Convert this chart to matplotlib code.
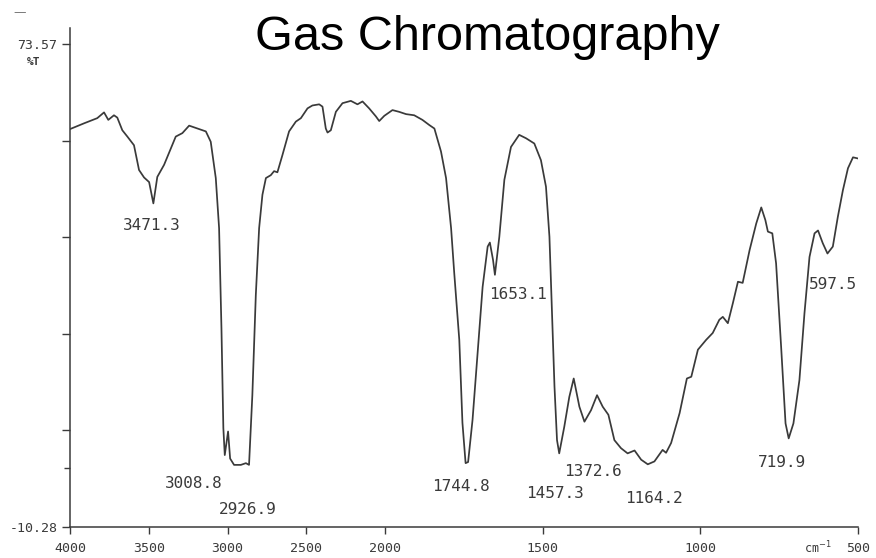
import numpy as np
import matplotlib
matplotlib.use('Agg')
import matplotlib.pyplot as plt

# IR spectrum: wavenumber (cm-1) and %T
wavenumber = [4000, 3911, 3827, 3784, 3757, 3721, 3700, 3668, 3636, 3594,
              3562, 3530, 3498, 3471, 3446, 3403, 3329, 3287, 3244, 3192,
              3138, 3107, 3075, 3054, 3039, 3027, 3018, 2997, 2984, 2959,
              2916, 2884, 2864, 2843, 2821, 2800, 2779, 2757, 2726, 2705,
              2684, 2652, 2610, 2567, 2535, 2493, 2462, 2419, 2398, 2377,
              2366, 2345, 2313, 2271, 2218, 2176, 2144, 2102, 2059, 2038,
              2006, 1977, 1956, 1934, 1908, 1882, 1860, 1844, 1823, 1807,
              1791, 1781, 1765, 1755, 1745, 1737, 1723, 1707, 1691, 1675,
              1668, 1658, 1652, 1638, 1622, 1601, 1575, 1553, 1527, 1506,
              1490, 1479, 1472, 1463, 1455, 1448, 1432, 1416, 1402, 1384,
              1368, 1347, 1328, 1310, 1292, 1273, 1252, 1231, 1209, 1188,
              1167, 1146, 1120, 1109, 1093, 1066, 1043, 1029, 1008, 982,
              961, 940, 929, 913, 897, 881, 866, 844, 823, 807,
              794, 786, 772, 760, 744, 730, 720, 705, 686, 670,
              654, 638, 627, 612, 597, 580, 564, 548, 532, 516, 500]
transmittance = [58.8, 59.8, 60.7, 61.7, 60.4, 61.2, 60.8, 58.6, 57.5, 56.0,
                 51.7, 50.4, 49.6, 45.9, 50.5, 52.6, 57.5, 58.1, 59.4, 58.9,
                 58.4, 56.6, 50.3, 41.6, 24.2, 6.9, 2.2, 6.3, 1.6, 0.5,
                 0.5, 0.8, 0.5, 12.6, 30.0, 41.6, 47.4, 50.3, 50.8, 51.5,
                 51.3, 54.3, 58.4, 60.1, 60.7, 62.4, 62.9, 63.1, 62.7, 58.9,
                 58.2, 58.6, 61.8, 63.3, 63.7, 63.1, 63.6, 62.4, 61.0, 60.2,
                 61.1, 62.1, 61.8, 61.4, 61.2, 60.4, 59.5, 58.9, 54.9, 50.3,
                 41.6, 33.8, 22.2, 7.8, 0.8, 1.0, 8.3, 19.9, 31.4, 38.4,
                 39.1, 36.1, 33.5, 40.1, 50.0, 55.7, 57.8, 57.2, 56.3, 53.4,
                 48.8, 40.1, 28.6, 14.1, 4.8, 2.5, 7.1, 12.3, 15.5, 10.6,
                 8.0, 10.0, 12.6, 10.6, 9.2, 4.8, 3.4, 2.5, 3.0, 1.4,
                 0.6, 1.1, 3.1, 2.6, 4.3, 9.5, 15.5, 15.8, 20.5, 22.2,
                 23.4, 25.7, 26.2, 25.1, 28.6, 32.3, 32.1, 37.8, 42.4, 45.2,
                 43.0, 41.0, 40.7, 35.5, 21.0, 7.7, 5.1, 7.7, 15.2, 26.8,
                 36.6, 40.7, 41.2, 39.0, 37.2, 38.4, 43.6, 48.2, 52.0, 53.9, 53.7]

# peak labels and where they sit
peak_labels = ['3471.3', '3008.8', '2926.9', '1744.8', '1653.1',
               '1457.3', '1372.6', '1164.2', '719.9', '597.5']
label_x = [3479, 3213, 2870, 1759, 1578, 1460, 1340, 1149, 743, 581]
label_y = [42.0, -2.8, -7.2, -3.3, 30.0, -4.4, -0.7, -5.3, 1.0, 31.9]

x_ticks = [4000, 3500, 3000, 2500, 2000, 1500, 1000, 500]
x_ticklabels = ['4000', '3500', '3000', '2500', '2000', '1500', '1000', '500']
y_top = 73.57
y_bottom = -10.28


# chart paper is compressed 2x above 2000 cm-1
def fwd(x):
    x = np.asarray(x, dtype=float)
    return np.where(x >= 2000, x, 2 * x - 2000)


def inv(y):
    y = np.asarray(y, dtype=float)
    return np.where(y >= 2000, y, (y + 2000) / 2)


ink = '#3a3a3a'
mono = 'DejaVu Sans Mono'

fig = plt.figure(figsize=(8.76, 5.58), dpi=100)
ax = fig.add_axes([0.0799, 0.0556, 0.8996, 0.8942])

ax.plot(wavenumber, transmittance, color=ink, lw=1.25, solid_joinstyle='round')

ax.set_xscale('function', functions=(fwd, inv))
ax.set_xlim(4000, 500)
ax.set_ylim(y_bottom, 76.35)

ax.set_xticks(x_ticks)
ax.set_xticklabels(x_ticklabels, family=mono, fontsize=9.5, color=ink)
ax.xaxis.set_minor_locator(plt.NullLocator())

y_major = [y_top - k * (y_top - y_bottom) / 5 for k in range(6)]
ax.set_yticks(y_major)
ax.set_yticklabels(['73.57', '', '', '', '', '-10.28'], family=mono,
                   fontsize=9.5, color=ink)
ax.set_yticks([0], minor=True)

ax.tick_params(axis='both', which='both', direction='out', color=ink,
               width=1.0)
ax.tick_params(axis='x', length=5, pad=6)
ax.tick_params(axis='y', which='major', length=6, pad=3)
ax.tick_params(axis='y', which='minor', length=4)

for s in ['top', 'right']:
    ax.spines[s].set_visible(False)
for s in ['left', 'bottom']:
    ax.spines[s].set_color(ink)
    ax.spines[s].set_linewidth(1.1)

for lab, lx, ly in zip(peak_labels, label_x, label_y):
    ax.text(lx, ly, lab, family=mono, fontsize=11.5, color=ink,
            ha='center', va='center')

ax.text(-0.0457, 0.932, '%T', transform=ax.transAxes, family=mono,
        fontsize=8, color=ink, ha='center', va='center', weight='bold')
ax.text(0.949, -0.042, 'cm$^{-1}$', transform=ax.transAxes, family=mono,
        fontsize=8.5, color=ink, ha='center', va='center')

fig.text(0.5565, 0.910, 'Gas Chromatography', family='Liberation Sans',
         fontsize=35, ha='center', va='baseline', color='black')
fig.text(0.022, 0.978, '\u2014', fontsize=9, color='#777777',
         ha='center', va='center')

fig.savefig('out.png', dpi=100)
